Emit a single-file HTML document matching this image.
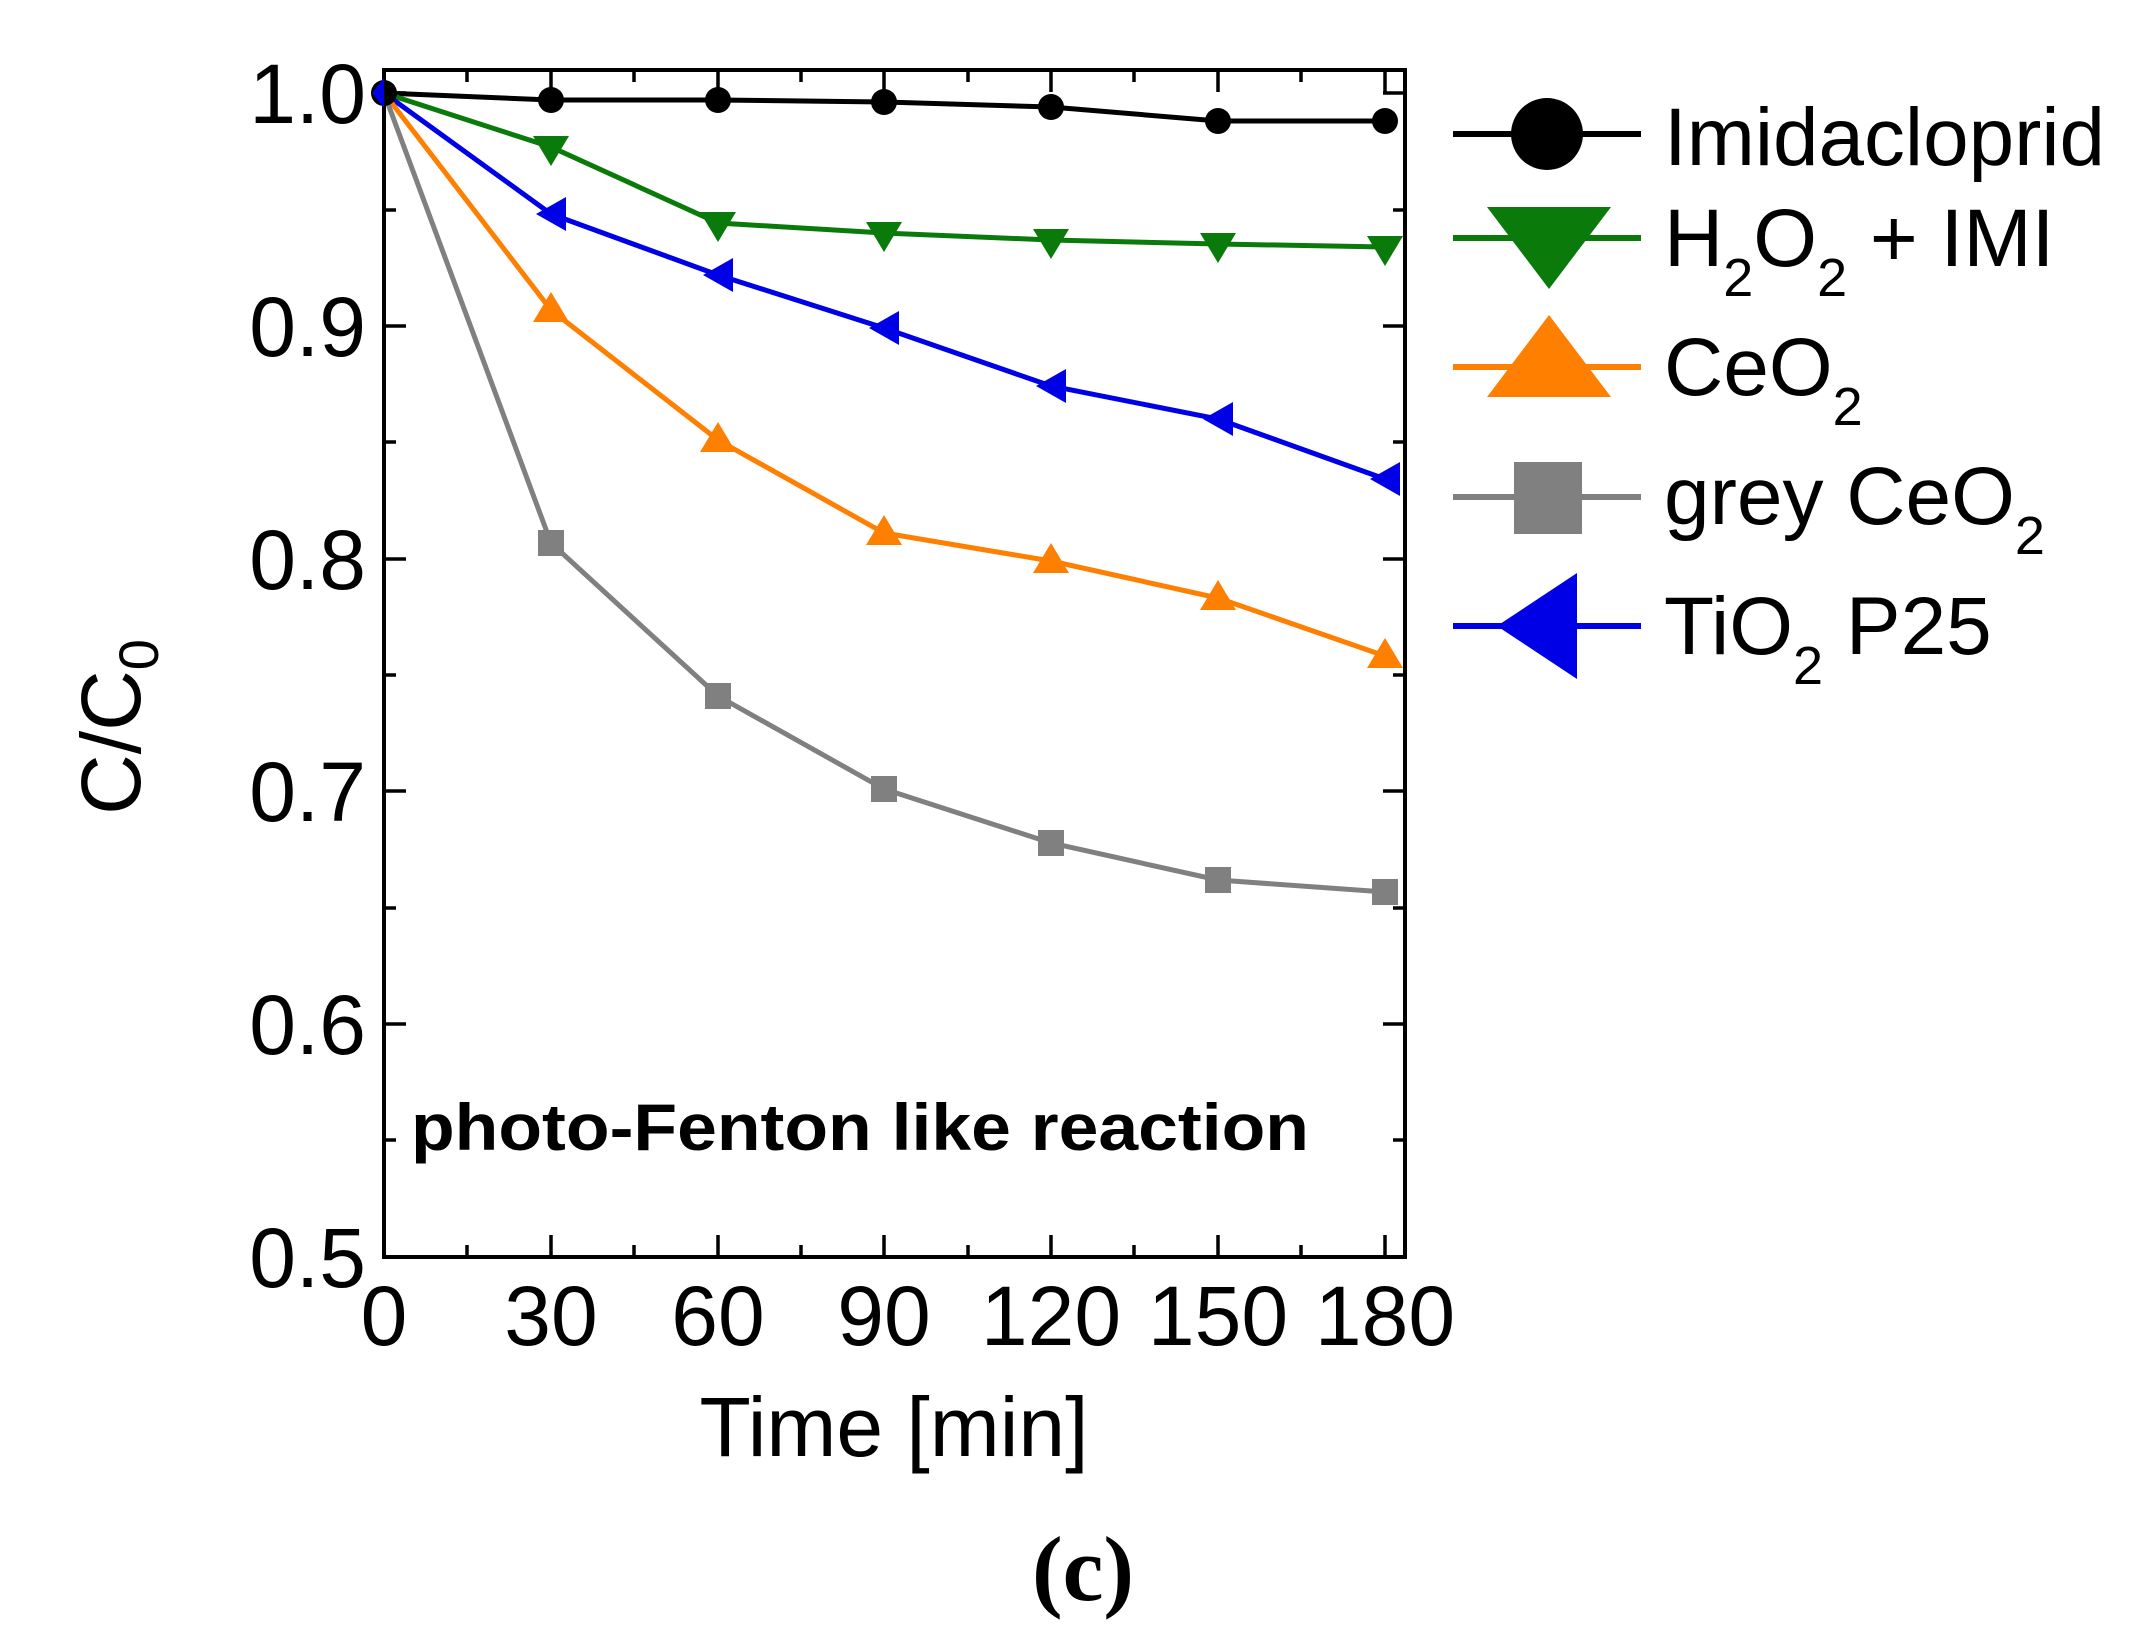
<!DOCTYPE html>
<html><head><meta charset="utf-8"><style>
html,body{margin:0;padding:0;background:#fff;}
svg{display:block;font-family:"Liberation Sans",Arial,sans-serif;}
</style></head><body>
<svg width="2139" height="1644" viewBox="0 0 2139 1644" xmlns="http://www.w3.org/2000/svg">
<rect width="2139" height="1644" fill="#fff"/>
<rect x="384" y="70" width="1021" height="1187" fill="none" stroke="#000" stroke-width="4"/>
<g stroke="#000" stroke-width="3.5">
<path d="M384 93h22M384 326h22M384 559h22M384 791h22M384 1024h22M1405 93h-22M1405 326h-22M1405 559h-22M1405 791h-22M1405 1024h-22"/>
<path d="M384 210h12M384 442h12M384 675h12M384 908h12M384 1140h12M1405 210h-12M1405 442h-12M1405 675h-12M1405 908h-12M1405 1140h-12"/>
<path d="M551 1257v-22M718 1257v-22M884 1257v-22M1051 1257v-22M1218 1257v-22M1385 1257v-22"/>
<path d="M467 1257v-12M634 1257v-12M801 1257v-12M968 1257v-12M1134 1257v-12M1301 1257v-12"/>
<path d="M551 70v22M718 70v22M884 70v22M1051 70v22M1218 70v22M1385 70v22M467 70v12M634 70v12M801 70v12M968 70v12M1134 70v12M1301 70v12"/>
</g>
<g font-size="84" text-anchor="end" fill="#000">
<text x="366" y="123">1.0</text>
<text x="366" y="356">0.9</text>
<text x="366" y="589">0.8</text>
<text x="366" y="821">0.7</text>
<text x="366" y="1054">0.6</text>
<text x="366" y="1287">0.5</text>
</g>
<g font-size="84" text-anchor="middle" fill="#000">
<text x="384" y="1345">0</text>
<text x="551" y="1345">30</text>
<text x="718" y="1345">60</text>
<text x="884" y="1345">90</text>
<text x="1051" y="1345">120</text>
<text x="1218" y="1345">150</text>
<text x="1385" y="1345">180</text>
<text x="894" y="1456">Time [min]</text>
</g>
<text transform="translate(140,727) rotate(-90)" font-size="84" text-anchor="middle">C/C<tspan font-size="56" dy="18">0</tspan></text>
<text x="411" y="1150" font-size="66" font-weight="bold" textLength="898" lengthAdjust="spacingAndGlyphs">photo-Fenton like reaction</text>
<text x="1083" y="1600" font-size="92" text-anchor="middle" font-family="Liberation Serif,serif" font-weight="bold">(c)</text>

<g fill="none" stroke-width="5">
<polyline stroke="#000" points="384,93 551,100 718,100 884,102 1051,107 1218,121 1385,121"/>
<polyline stroke="#0a7a0a" points="384,93 551,147 718,223 884,233 1051,240 1218,244 1385,247"/>
<polyline stroke="#0000e6" points="384,93 551,214 718,275 884,328 1051,386 1218,419 1385,479"/>
<polyline stroke="#ff7f00" points="384,93 551,310 718,440 884,533 1051,561 1218,598 1385,656"/>
<polyline stroke="#808080" points="384,93 551,543 718,696 884,789 1051,843 1218,880 1385,892"/>
</g>
<g fill="#000">
<circle cx="384" cy="93" r="13"/><circle cx="551" cy="100" r="13"/><circle cx="718" cy="100" r="13"/><circle cx="884" cy="102" r="13"/><circle cx="1051" cy="107" r="13"/><circle cx="1218" cy="121" r="13"/><circle cx="1385" cy="121" r="13"/>
</g>
<g fill="#0a7a0a">
<path d="M533 136h36l-18 30z M700 212h36l-18 30z M866 222h36l-18 30z M1033 229h36l-18 30z M1200 233h36l-18 30z M1367 236h36l-18 30z"/>
</g>
<g fill="#0000e6">
<path d="M384 78v30l-12-15z M566 197v34l-30-17z M733 258v34l-30-17z M899 311v34l-30-17z M1066 369v34l-30-17z M1233 402v34l-30-17z M1400 462v34l-30-17z"/>
</g>
<g fill="#ff7f00">
<path d="M533 322h36l-18-30z M700 452h36l-18-30z M866 545h36l-18-30z M1033 573h36l-18-30z M1200 610h36l-18-30z M1367 668h36l-18-30z"/>
</g>
<g fill="#808080">
<rect x="538" y="530" width="26" height="26"/><rect x="705" y="683" width="26" height="26"/><rect x="871" y="776" width="26" height="26"/><rect x="1038" y="830" width="26" height="26"/><rect x="1205" y="867" width="26" height="26"/><rect x="1372" y="879" width="26" height="26"/>
</g>

<g stroke-width="6">
<line x1="1453" y1="134" x2="1641" y2="134" stroke="#000"/>
<line x1="1453" y1="238" x2="1641" y2="238" stroke="#0a7a0a"/>
<line x1="1453" y1="367" x2="1641" y2="367" stroke="#ff7f00"/>
<line x1="1453" y1="497" x2="1641" y2="497" stroke="#808080"/>
<line x1="1453" y1="626" x2="1641" y2="626" stroke="#0000e6"/>
</g>
<circle cx="1547" cy="134" r="36" fill="#000"/>
<path d="M1487 207h124l-62 82z" fill="#0a7a0a"/>
<path d="M1487 397h124l-62-82z" fill="#ff7f00"/>
<rect x="1514" y="462" width="68" height="72" fill="#808080"/>
<path d="M1577 573v106l-80-53z" fill="#0000e6"/>
<g font-size="82" fill="#000">
<text x="1664" y="165" textLength="441" lengthAdjust="spacingAndGlyphs">Imidacloprid</text>
<text x="1664" y="266">H<tspan font-size="54" dy="30">2</tspan><tspan dy="-30">O</tspan><tspan font-size="54" dy="30">2</tspan><tspan dy="-30"> + IMI</tspan></text>
<text x="1664" y="395">CeO<tspan font-size="54" dy="30">2</tspan></text>
<text x="1664" y="524">grey CeO<tspan font-size="54" dy="30">2</tspan></text>
<text x="1664" y="654">TiO<tspan font-size="54" dy="30">2</tspan><tspan dy="-30"> P25</tspan></text>
</g>
</svg>
</body></html>
